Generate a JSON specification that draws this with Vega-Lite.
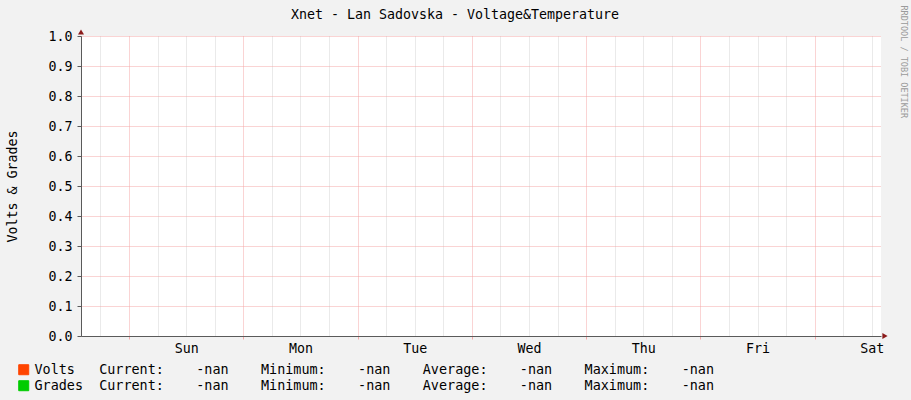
{
  "$schema": "https://vega.github.io/schema/vega-lite/v6.json",
  "description": "Xnet - Lan Sadovska - Voltage&Temperature (RRDtool style, no data: all -nan)",
  "width": 800,
  "height": 300,
  "autosize": {"type": "none"},
  "padding": {"left": 81, "top": 36, "right": 30, "bottom": 64},
  "background": "#f2f2f2",
  "title": {
    "text": "Xnet - Lan Sadovska - Voltage&Temperature",
    "font": "DejaVu Sans Mono",
    "fontSize": 13.3,
    "fontWeight": "normal",
    "color": "#000000",
    "anchor": "middle",
    "frame": "group",
    "dx": -26,
    "offset": -16
  },
  "data": {
    "values": [
      {"time": "2024-01-06T13:55:00", "series": "Volts", "value": null},
      {"time": "2024-01-07T14:00:00", "series": "Volts", "value": null},
      {"time": "2024-01-08T14:00:00", "series": "Volts", "value": null},
      {"time": "2024-01-09T14:00:00", "series": "Volts", "value": null},
      {"time": "2024-01-10T14:00:00", "series": "Volts", "value": null},
      {"time": "2024-01-11T14:00:00", "series": "Volts", "value": null},
      {"time": "2024-01-12T14:00:00", "series": "Volts", "value": null},
      {"time": "2024-01-13T13:55:00", "series": "Volts", "value": null},
      {"time": "2024-01-06T13:55:00", "series": "Grades", "value": null},
      {"time": "2024-01-07T14:00:00", "series": "Grades", "value": null},
      {"time": "2024-01-08T14:00:00", "series": "Grades", "value": null},
      {"time": "2024-01-09T14:00:00", "series": "Grades", "value": null},
      {"time": "2024-01-10T14:00:00", "series": "Grades", "value": null},
      {"time": "2024-01-11T14:00:00", "series": "Grades", "value": null},
      {"time": "2024-01-12T14:00:00", "series": "Grades", "value": null},
      {"time": "2024-01-13T13:55:00", "series": "Grades", "value": null}
    ]
  },
  "layer": [
    {
      "mark": {"type": "line", "clip": true},
      "encoding": {
        "x": {
          "field": "time",
          "type": "temporal",
          "scale": {"nice": false},
          "axis": {
            "title": null,
            "tickCount": 28,
            "grid": true,
            "gridColor": {"condition": {"test": "hours(datum.value) == 0", "value": "#f4a8a8"}, "value": "#d4d4d4"},
            "gridDash": [1, 1],
            "gridWidth": 1,
            "tickColor": {"condition": {"test": "hours(datum.value) == 0", "value": "#f4a8a8"}, "value": "transparent"},
            "tickSize": 3,
            "labelExpr": "hours(datum.value) == 12 ? timeFormat(datum.value, '%a') : ''",
            "labelOverlap": false,
            "labelFlush": false,
            "labelPadding": 2,
            "labelFont": "DejaVu Sans Mono",
            "labelFontSize": 13.3,
            "labelColor": "#000000",
            "domainColor": "#5a5a5a"
          }
        },
        "y": {
          "field": "value",
          "type": "quantitative",
          "scale": {"domain": [0, 1]},
          "axis": {
            "values": [0, 0.1, 0.2, 0.3, 0.4, 0.5, 0.6, 0.7, 0.8, 0.9, 1],
            "format": ".1f",
            "title": "Volts & Grades",
            "grid": true,
            "gridColor": "#f4a8a8",
            "gridDash": [1, 1],
            "gridWidth": 1,
            "domainColor": "#5a5a5a",
            "tickColor": "#5a5a5a",
            "tickSize": 4,
            "labelPadding": 5,
            "labelFont": "DejaVu Sans Mono",
            "labelFontSize": 13.3,
            "labelColor": "#000000",
            "titleFont": "DejaVu Sans Mono",
            "titleFontSize": 13.3,
            "titleFontWeight": "normal",
            "titleColor": "#000000",
            "titleX": -69,
            "titleY": 150,
            "titleAngle": -90,
            "titleAlign": "center",
            "titleBaseline": "middle"
          }
        },
        "color": {
          "field": "series",
          "type": "nominal",
          "scale": {"domain": ["Volts", "Grades"], "range": ["#ff4400", "#00cc00"]},
          "legend": {
            "orient": "none",
            "legendX": -64,
            "legendY": 327,
            "title": null,
            "padding": 0,
            "symbolType": "square",
            "symbolSize": 100,
            "symbolStrokeColor": "#000000",
            "symbolStrokeWidth": 1,
            "symbolOpacity": 1,
            "labelFont": "DejaVu Sans Mono",
            "labelFontSize": 13.45,
            "labelColor": "#000000",
            "labelOffset": 4,
            "labelLimit": 900,
            "rowPadding": 1,
            "labelExpr": "datum.label == 'Volts' ? 'Volts\u00a0\u00a0\u00a0Current:\u00a0\u00a0\u00a0\u00a0-nan\u00a0\u00a0\u00a0\u00a0Minimum:\u00a0\u00a0\u00a0\u00a0-nan\u00a0\u00a0\u00a0\u00a0Average:\u00a0\u00a0\u00a0\u00a0-nan\u00a0\u00a0\u00a0\u00a0Maximum:\u00a0\u00a0\u00a0\u00a0-nan' : 'Grades\u00a0\u00a0Current:\u00a0\u00a0\u00a0\u00a0-nan\u00a0\u00a0\u00a0\u00a0Minimum:\u00a0\u00a0\u00a0\u00a0-nan\u00a0\u00a0\u00a0\u00a0Average:\u00a0\u00a0\u00a0\u00a0-nan\u00a0\u00a0\u00a0\u00a0Maximum:\u00a0\u00a0\u00a0\u00a0-nan'",
            "encode": {
              "symbols": {
                "update": {
                  "fill": {"scale": "color", "field": "value"},
                  "stroke": {"value": "#000000"},
                  "strokeWidth": {"value": 1}
                }
              }
            }
          }
        }
      }
    },
    {
      "mark": {"type": "point", "shape": "triangle-up", "filled": true, "size": 36, "color": "#8b1a1a", "opacity": 1, "yOffset": -4, "clip": false},
      "encoding": {
        "x": {"aggregate": "min", "field": "time", "type": "temporal"},
        "y": {"datum": 1, "type": "quantitative", "axis": null}
      }
    },
    {
      "mark": {"type": "point", "shape": "triangle-right", "filled": true, "size": 36, "color": "#8b1a1a", "opacity": 1, "xOffset": 4, "clip": false},
      "encoding": {
        "x": {"aggregate": "max", "field": "time", "type": "temporal"},
        "y": {
          "datum": 0,
          "type": "quantitative",
          "axis": {
            "orient": "right",
            "title": "RRDTOOL / TOBI OETIKER",
            "labels": false,
            "ticks": false,
            "domain": false,
            "grid": false,
            "titleFont": "DejaVu Sans Mono",
            "titleFontSize": 8.5,
            "titleFontWeight": "normal",
            "titleColor": "#9a9a9a",
            "titleAngle": 90,
            "titleAlign": "left",
            "titleBaseline": "middle",
            "titleX": 22,
            "titleY": -31
          }
        }
      }
    }
  ],
  "resolve": {"axis": {"y": "independent"}},
  "config": {
    "view": {"fill": "#ffffff", "stroke": null}
  }
}
